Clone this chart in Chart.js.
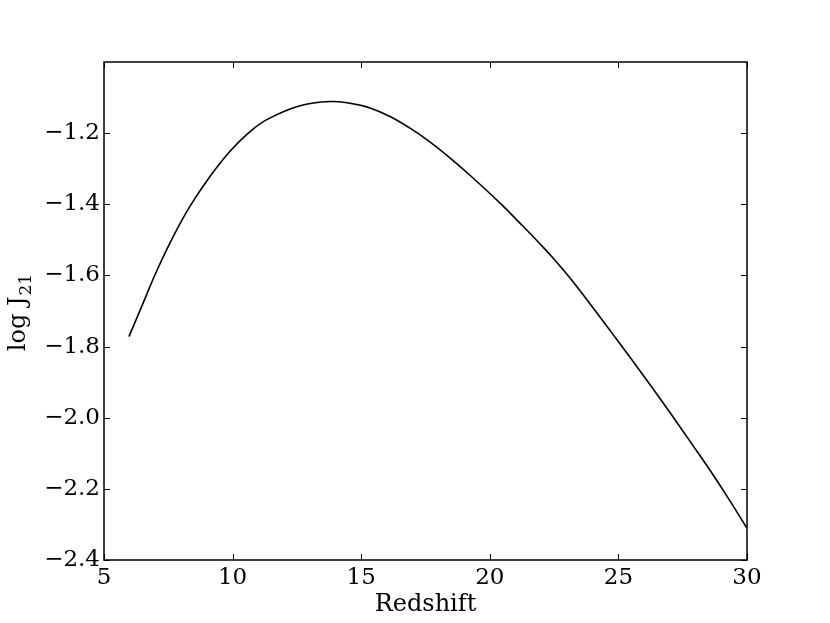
<!DOCTYPE html>
<html>
<head>
<meta charset="utf-8">
<script src="https://cdn.jsdelivr.net/npm/chart.js@4/dist/chart.umd.min.js"></script>
<style>
  html, body { margin: 0; padding: 0; background: #fff; }
  #wrap { width: 830px; height: 623px; }
</style>
</head>
<body>
<div id="wrap"><canvas id="chart" width="830" height="623"></canvas></div>
<script>
// data
var redshift = [5.97, 6.52, 7.04, 7.69, 8.34, 9.12, 9.90, 10.61, 11.33, 12.62, 13.79, 14.56, 15.34, 16.12, 16.90, 17.68, 18.46, 19.24, 20.42, 21.20, 21.91, 22.37, 23.15, 23.93, 24.71, 25.48, 26.26, 27.04, 27.82, 28.60, 29.35, 30.0];
var logJ21 = [-1.772, -1.678, -1.589, -1.491, -1.406, -1.322, -1.251, -1.200, -1.162, -1.123, -1.111, -1.116, -1.129, -1.153, -1.186, -1.225, -1.270, -1.319, -1.398, -1.455, -1.508, -1.544, -1.610, -1.683, -1.758, -1.833, -1.910, -1.989, -2.070, -2.152, -2.235, -2.311];
var xTicks = [5, 10, 15, 20, 25, 30];
var yTicks = [-2.4, -2.2, -2.0, -1.8, -1.6, -1.4, -1.2];

var points = [];
for (var i = 0; i < redshift.length; i++) {
    points.push({ x: redshift[i], y: logJ21[i] });
}

var serif = 'DejaVu Serif';

// frame + ticks pointing inward on all four sides (classic matplotlib look)
var framePlugin = {
    id: 'frame',
    afterDatasetsDraw: function (chart) {
        var ctx = chart.ctx;
        var a = chart.chartArea;
        var xs = chart.scales.x, ys = chart.scales.y;
        ctx.save();
        ctx.strokeStyle = '#000';
        ctx.lineWidth = 1;
        ctx.beginPath();
        xs.ticks.forEach(function (t) {
            var px = Math.round(xs.getPixelForValue(t.value)) + 0.5;
            ctx.moveTo(px, a.bottom); ctx.lineTo(px, a.bottom - 6);
            ctx.moveTo(px, a.top); ctx.lineTo(px, a.top + 6);
        });
        ys.ticks.forEach(function (t) {
            var py = Math.round(ys.getPixelForValue(t.value)) + 0.5;
            ctx.moveTo(a.left, py); ctx.lineTo(a.left + 6, py);
            ctx.moveTo(a.right, py); ctx.lineTo(a.right - 6, py);
        });
        ctx.stroke();
        ctx.lineWidth = 1.5;
        ctx.strokeRect(a.left, a.top, a.right - a.left, a.bottom - a.top);
        ctx.restore();
    }
};

// y title with subscript
var yTitlePlugin = {
    id: 'ytitle',
    afterDraw: function (chart) {
        var ctx = chart.ctx;
        var a = chart.chartArea;
        ctx.save();
        ctx.fillStyle = '#000';
        ctx.textBaseline = 'alphabetic';
        ctx.font = '24px "' + serif + '"';
        var main = 'log J';
        var wMain = ctx.measureText(main).width;
        ctx.font = '17px "' + serif + '"';
        var wSub = ctx.measureText('21').width;
        var total = wMain + wSub;
        ctx.translate(25, (a.top + a.bottom) / 2 + 2);
        ctx.rotate(-Math.PI / 2);
        ctx.font = '24px "' + serif + '"';
        ctx.fillText(main, -total / 2, 0);
        ctx.font = '17px "' + serif + '"';
        ctx.fillText('21', -total / 2 + wMain + 1, 6);
        ctx.restore();
    }
};

new Chart(document.getElementById('chart'), {
    type: 'scatter',
    data: {
        datasets: [{
            data: points,
            showLine: true,
            borderColor: '#000',
            borderWidth: 1.6,
            pointRadius: 0,
            fill: false,
            tension: 0.4
        }]
    },
    options: {
        responsive: false,
        animation: false,
        layout: { padding: { left: 0, top: 62, right: 83, bottom: 0 } },
        plugins: { legend: { display: false }, tooltip: { enabled: false } },
        scales: {
            x: {
                type: 'linear',
                min: 5,
                max: 30,
                afterBuildTicks: function (scale) {
                    scale.ticks = xTicks.map(function (v) { return { value: v }; });
                },
                afterFit: function (scale) { scale.height = 63; },
                grid: { display: false, drawTicks: false },
                border: { display: false },
                ticks: {
                    color: '#000',
                    padding: 4,
                    maxRotation: 0,
                    font: { family: serif, size: 23 },
                    callback: function (v) { return String(v); }
                },
                title: {
                    display: true,
                    text: 'Redshift',
                    color: '#000',
                    font: { family: serif, size: 24 },
                    padding: { top: 0, bottom: 4 }
                }
            },
            y: {
                type: 'linear',
                min: -2.4,
                max: -1.0,
                afterBuildTicks: function (scale) {
                    scale.ticks = yTicks.map(function (v) { return { value: v }; });
                },
                afterFit: function (scale) { scale.width = 104; },
                grid: { display: false, drawTicks: false },
                border: { display: false },
                ticks: {
                    color: '#000',
                    padding: 4,
                    font: { family: serif, size: 23 },
                    callback: function (v) { return '\u2212' + Math.abs(v).toFixed(1); }
                }
            }
        }
    },
    plugins: [framePlugin, yTitlePlugin]
});
</script>
</body>
</html>
